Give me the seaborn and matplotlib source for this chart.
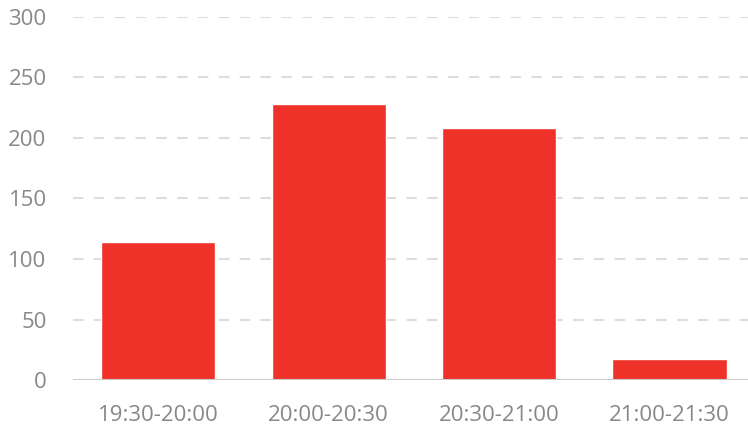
import pandas as pd
import seaborn as sns
import matplotlib.pyplot as plt

# dados
faixas = ['19:30-20:00', '20:00-20:30', '20:30-21:00', '21:00-21:30']
valores = [114, 228, 208, 17]
ticks_y = [0, 50, 100, 150, 200, 250, 300]

df = pd.DataFrame({'faixa': faixas, 'valor': valores})

sns.set_theme(style='white')
plt.rcParams['font.family'] = ['Open Sans', 'DejaVu Sans']

fig = plt.figure(figsize=(7.48, 4.26), dpi=100)
ax = fig.add_axes([73 / 748, 1 - 380 / 426, 1 - 73 / 748, 363 / 426])

sns.barplot(data=df, x='faixa', y='valor', color='#ee3129', saturation=1,
            width=0.67, ax=ax, zorder=3)

ax.set_ylim(0, 300)
ax.set_xlim(-0.5, 3.46)
ax.set_yticks(ticks_y)
for y in ticks_y[1:]:
    ax.axhline(y, color='#dddddd', lw=1.5, ls=(0, (5, 5)), zorder=1)
ax.axhline(0, color='#cccccc', lw=1.5, zorder=4)

sns.despine(ax=ax, left=True, bottom=True)
ax.set_xlabel('')
ax.set_ylabel('')
ax.tick_params(axis='both', length=0, labelsize=16, colors='#888888')
ax.tick_params(axis='x', pad=18)
ax.tick_params(axis='y', pad=19)

fig.savefig('out.png', dpi=100)
